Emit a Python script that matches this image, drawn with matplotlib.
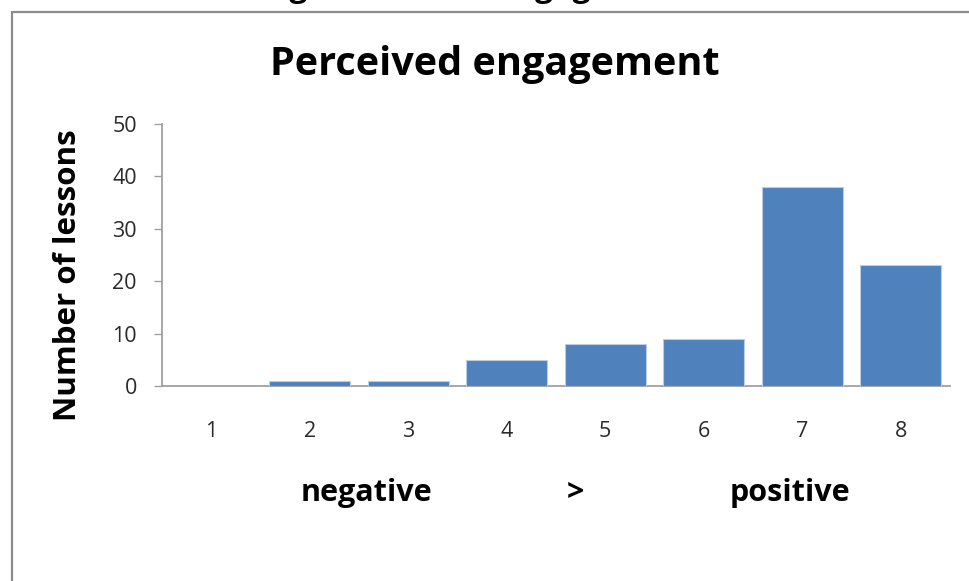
import matplotlib
matplotlib.use("Agg")
import matplotlib.pyplot as plt
from matplotlib.patches import Rectangle

categories = ["1", "2", "3", "4", "5", "6", "7", "8"]
counts = [0, 1, 1, 5, 8, 9, 38, 23]
y_ticks = [0, 10, 20, 30, 40, 50]
title = "Perceived engagement"
y_label = "Number of lessons"
scale_labels = ["negative", ">", "positive"]
clipped_caption = "Figure 1: Class engagement"

FONT = ["Open Sans", "DejaVu Sans"]
plt.rcParams["font.family"] = FONT

W, H = 970, 581
fig = plt.figure(figsize=(W / 100, H / 100), dpi=100)

# outer chart frame (extends past right/bottom edges)
fig.patches.append(Rectangle((12 / W, -0.1), 1.2, 1 - 12 / H + 0.1,
                             transform=fig.transFigure, fill=False,
                             edgecolor="#8c8c8c", linewidth=1.6))

# clipped caption above the frame (only descenders visible)
fig.text(262 / W, 1 + 4 / H, clipped_caption, ha="left", va="baseline",
         fontsize=23, fontweight="bold", color="black")

ax = fig.add_axes([162 / W, 1 - 386 / H, (950 - 162) / W, (386 - 124) / H])
x = list(range(1, len(categories) + 1))
ax.bar(x, counts, width=0.82, color="#4F81BD", edgecolor="#B9CDE5",
       linewidth=0.8, zorder=3)
ax.set_xlim(0.5, len(categories) + 0.5)
ax.set_ylim(0, 50)
ax.set_yticks(y_ticks)
ax.set_xticks(x)
ax.set_xticklabels(categories)

for s in ["top", "right"]:
    ax.spines[s].set_visible(False)
for s in ["left", "bottom"]:
    ax.spines[s].set_color("#a0a0a0")
    ax.spines[s].set_linewidth(1.3)

ax.tick_params(axis="y", length=6, width=1.0, color="#a0a0a0", pad=12,
               labelsize=15.5, labelcolor="#2a2a2a")
ax.tick_params(axis="x", length=0, pad=25, labelsize=15.5, labelcolor="#2a2a2a")

fig.text(68 / W, 1 - 275 / H, y_label, rotation=90, ha="center", va="center",
         fontsize=22.5, fontweight="bold")

fig.text(495 / W, 1 - 65 / H, title, ha="center", va="center",
         fontsize=28.5, fontweight="bold")

for label, xc in zip(scale_labels, [366, 575, 790]):
    fig.text(xc / W, 1 - 493 / H, label, ha="center", va="center",
             fontsize=22, fontweight="bold")

fig.savefig("out.png", dpi=100)
